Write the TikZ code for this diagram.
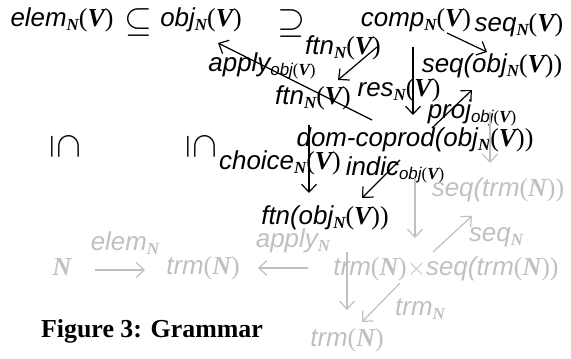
\documentclass[tikz,border=0pt]{standalone}
\usepackage{fontspec}
\setmainfont{Liberation Serif}
\setsansfont{Liberation Sans}
\usetikzlibrary{arrows.meta}
\definecolor{lg}{RGB}{192,192,192}
\newcommand\ws[1]{{\sffamily\itshape #1}}
\newcommand\bv[1]{{\rmfamily\bfseries\itshape #1}}
\newcommand\sbs[1]{\raisebox{-0.35ex}{\fontsize{17}{17}\selectfont #1}}
\newcommand\Vp{{\rmfamily(\bv{V})}}
\newcommand\Np{{\rmfamily(\bv{N})}}
\newcommand\bigrel[1]{\scalebox{1.45}{$#1$}}
\begin{document}
\begin{tikzpicture}[x=1bp,y=-1bp,
  every node/.style={inner sep=0pt,outer sep=0pt,font=\fontsize{26}{28}\selectfont},
  gtxt/.style={text=lg},
  ar/.style={-{Straight Barb[length=8bp,width=15bp]},line width=1.2bp,black},
  gar/.style={-{Straight Barb[length=8bp,width=15bp]},line width=1.2bp,lg},
  figcap/.style={font=\fontsize{26}{28}\selectfont\rmfamily\bfseries}]
\useasboundingbox (0,0) rectangle (571,358);
% top row
\node (elemV) at (62,20) {\ws{elem}\sbs{\bv{N}}\Vp};
\node (sub1) at (138,23) {\bigrel{\subseteq}};
\node (objV) at (201,20) {\ws{obj}\sbs{\bv{N}}\Vp};
\node (sup1) at (291,24) {\bigrel{\supseteq}};
\node (compV) at (416,20) {\ws{comp}\sbs{\bv{N}}\Vp};
\node (seqV) at (519,25) {\ws{seq}\sbs{\bv{N}}\Vp};
\node (ftnV1) at (343,48) {\ws{ftn}\sbs{\bv{N}}\Vp};
\node (applyobj) at (262,66) {\ws{apply}\sbs{\ws{obj}{\rmfamily(\bv{V})}}};
\node (seqobj) at (492,66) {\ws{seq(obj}\sbs{\bv{N}}{\rmfamily(\bv{V}))}};
\node (ftnV2) at (313,98) {\ws{ftn}\sbs{\bv{N}}\Vp};
\node (resV) at (399,90) {\ws{res}\sbs{\bv{N}}\Vp};
\node (projobj) at (472,113) {\ws{proj}\sbs{\ws{obj}{\rmfamily(\bv{V})}}};
\node (domcop) at (415,140) {\ws{dom-coprod(obj}\sbs{\bv{N}}{\rmfamily(\bv{V}))}};
\node[rotate=-90] (in1) at (65,146) {\bigrel{\subseteq}};
\node[rotate=-90] (in2) at (201,146) {\bigrel{\subseteq}};
\node (choiceV) at (280,163) {\ws{choice}\sbs{\bv{N}}\Vp};
\node (indicobj) at (395,170) {\ws{indic}\sbs{\ws{obj}{\rmfamily(\bv{V})}}};
\node (ftnobj) at (325,218) {\ws{ftn(obj}\sbs{\bv{N}}{\rmfamily(\bv{V}))}};
% gray part
\node[gtxt] (seqtrm) at (498,190) {\ws{seq(trm}{\rmfamily(\bv{N}))}};
\node[gtxt] (elemN) at (125,243) {\ws{elem}\sbs{\bv{N}}};
\node[gtxt] (applyN) at (293,241) {\ws{apply}\sbs{\bv{N}}};
\node[gtxt] (seqN) at (496,237) {\ws{seq}\sbs{\bv{N}}};
\node[gtxt] (Nn) at (62,267) {\bv{N}};
\node[gtxt] (trmN1) at (203,268) {\ws{trm}\Np};
\node[gtxt] (prod) at (446,269) {\ws{trm}\Np{\rmfamily$\times$}\ws{seq(trm}{\rmfamily(\bv{N}))}};
\node[gtxt] (trmNl) at (420,309) {\ws{trm}\sbs{\bv{N}}};
\node[gtxt] (trmN2) at (347,340) {\ws{trm}\Np};
\node[figcap] (caption) at (152,331) {Figure 3: Grammar};
% arrow end points
\coordinate (a1s) at (447,33); \coordinate (a1e) at (487,52);
\coordinate (a2s) at (377,47); \coordinate (a2e) at (338,80);
\coordinate (a3s) at (413,47); \coordinate (a3e) at (413,115);
\coordinate (a4s) at (372,120); \coordinate (a4e) at (218,43);
\coordinate (a5s) at (432,128); \coordinate (a5e) at (472,90);
\coordinate (a6s) at (309,125); \coordinate (a6e) at (309,193);
\coordinate (a7s) at (400,160); \coordinate (a7e) at (362,198);
\coordinate (g1s) at (490,112); \coordinate (g1e) at (490,163);
\coordinate (g2s) at (415,178); \coordinate (g2e) at (415,238);
\coordinate (g3s) at (433,252); \coordinate (g3e) at (472,216);
\coordinate (g4s) at (347,252); \coordinate (g4e) at (347,310);
\coordinate (g5s) at (400,283); \coordinate (g5e) at (362,322);
\coordinate (g6s) at (95,270); \coordinate (g6e) at (145,270);
\coordinate (g7s) at (308,268); \coordinate (g7e) at (258,268);
\draw[ar] (a1s) -- (a1e);
\draw[ar] (a2s) -- (a2e);
\draw[ar] (a3s) -- (a3e);
\draw[ar] (a4s) -- (a4e);
\draw[ar] (a5s) -- (a5e);
\draw[ar] (a6s) -- (a6e);
\draw[ar] (a7s) -- (a7e);
\draw[gar] (g1s) -- (g1e);
\draw[gar] (g2s) -- (g2e);
\draw[gar] (g3s) -- (g3e);
\draw[gar] (g4s) -- (g4e);
\draw[gar] (g5s) -- (g5e);
\draw[gar] (g6s) -- (g6e);
\draw[gar] (g7s) -- (g7e);
\end{tikzpicture}
\end{document}
